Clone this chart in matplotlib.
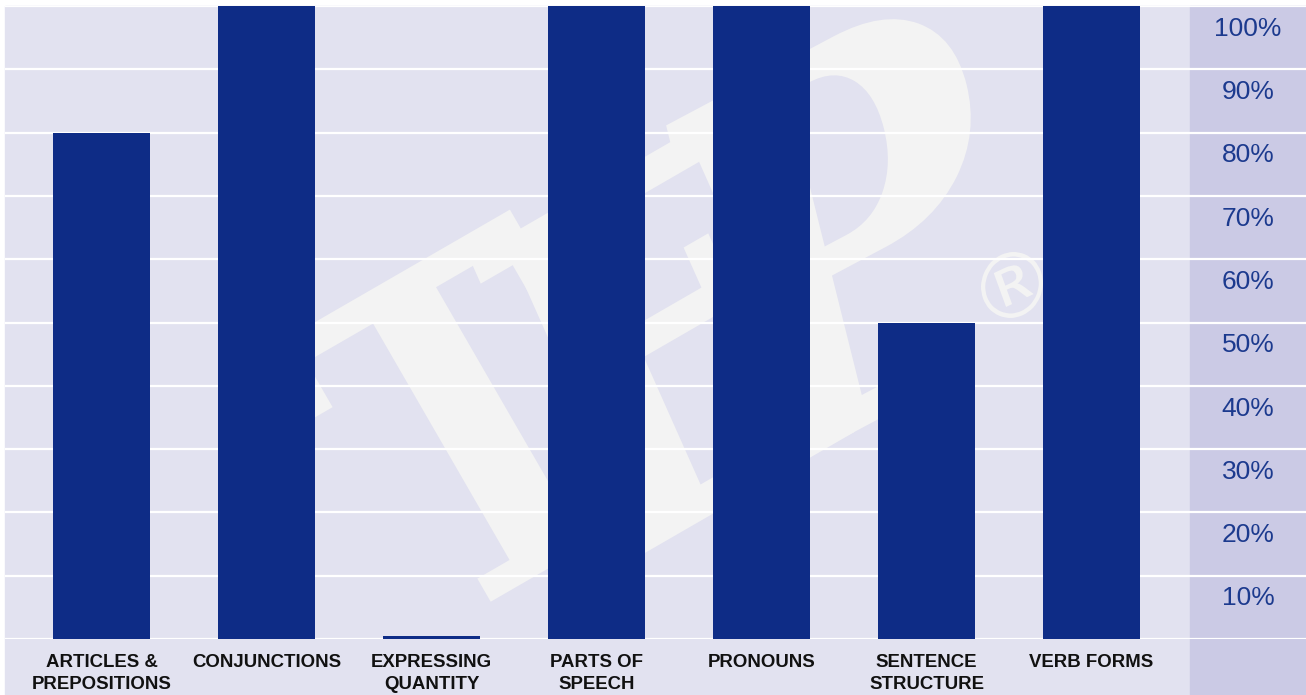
import numpy as np
import matplotlib
matplotlib.use("Agg")
import matplotlib.pyplot as plt
import matplotlib.transforms as mtransforms
from matplotlib.patches import Rectangle, PathPatch
from matplotlib.textpath import TextPath
from matplotlib.font_manager import FontProperties

categories = ["ARTICLES &\nPREPOSITIONS", "CONJUNCTIONS", "EXPRESSING\nQUANTITY",
              "PARTS OF\nSPEECH", "PRONOUNS", "SENTENCE\nSTRUCTURE", "VERB FORMS"]
scores = [80, 100, 0.5, 100, 100, 50, 100]
tick_values = [10, 20, 30, 40, 50, 60, 70, 80, 90, 100]
tick_labels = [f"{v}%" for v in tick_values]

W, H = 1306, 695
BG = "#e2e2f0"
PANEL = "#cbcae5"
BAR = "#0e2c86"
TICK = "#1c3a8e"
MARK = "#f3f3f3"

plt.rcParams["font.family"] = ["Liberation Sans", "DejaVu Sans"]

fig = plt.figure(figsize=(W / 100, H / 100), dpi=100)
fig.patch.set_facecolor("white")

# backgrounds (pixel layout of the reference)
left_px, top_px, panel_px, base_px = 5, 6, 1190, 639
fig.patches.append(Rectangle((left_px / W, 0), (panel_px - left_px) / W, (H - top_px) / H,
                             transform=fig.transFigure, color=BG, zorder=-3))
fig.patches.append(Rectangle((panel_px / W, 0), (W - panel_px) / W, (H - top_px) / H,
                             transform=fig.transFigure, color=PANEL, zorder=-3))


def watermark_glyph(ch, cx, cy, height, base_deg, stem_deg, widen=1.0,
                    family="DejaVu Serif", weight="bold"):
    """Glyph centred at pixel (cx, cy) from the top-left; baseline tilted by base_deg,
    vertical strokes leaning down-right at stem_deg below horizontal (slanted logo)."""
    tp = TextPath((0, 0), ch, size=100, prop=FontProperties(family=family, weight=weight))
    ext = tp.get_extents()
    k = height / ext.height
    b = np.radians(base_deg)
    s = np.radians(stem_deg)
    bx, by = np.cos(b) * widen, np.sin(b) * widen
    ux, uy = -np.cos(s), np.sin(s)
    shape = mtransforms.Affine2D.from_values(bx * k, by * k, ux * k, uy * k, 0, 0)
    tr = (mtransforms.Affine2D().translate(-(ext.x0 + ext.width / 2), -(ext.y0 + ext.height / 2))
          + shape + mtransforms.Affine2D().translate(cx, H - cy).scale(1 / 100)
          + fig.dpi_scale_trans)
    fig.patches.append(PathPatch(tp, transform=tr, facecolor=MARK, edgecolor="none", zorder=-2))


# faint "TEP" watermark behind the bars
watermark_glyph("T", 472, 422, 330, 30, 60, widen=0.85)
watermark_glyph("E", 662, 345, 345, 30, 66, widen=0.9)
watermark_glyph("P", 848, 232, 370, 28, 76, widen=0.9)
watermark_glyph("\u00ae", 1012, 285, 64, 25, 70, family="DejaVu Sans", weight="normal")

ax = fig.add_axes([left_px / W, (H - base_px) / H, (W - left_px) / W, (base_px - top_px) / H])
ax.set_facecolor("none")
for s in ax.spines.values():
    s.set_visible(False)

slot, first_center = 165, 101.5
x = list(range(len(categories)))
ax.bar(x, scores, width=97 / slot, color=BAR, zorder=3)
ax.set_xlim((left_px - first_center) / slot, (W - first_center) / slot)
ax.set_ylim(0, 100)

ax.set_yticks([0] + tick_values)
ax.set_yticklabels([])
ax.tick_params(axis="y", length=0)
ax.grid(axis="y", color="white", linewidth=1.6, zorder=1)
ax.set_axisbelow(True)

ax.set_xticks(x)
ax.set_xticklabels(categories, fontsize=13.4, fontweight="bold", color="#111111",
                   linespacing=1.38)
ax.tick_params(axis="x", length=0, pad=10.5)

label_x = ((W + panel_px) / 2 - left_px) / (W - left_px)
trans = mtransforms.blended_transform_factory(ax.transAxes, ax.transData)
for v, lab in zip(tick_values, tick_labels):
    ax.text(label_x, v - 3.6, lab, transform=trans, ha="center", va="center",
            fontsize=19, color=TICK)

plt.savefig("out.png", dpi=100)
